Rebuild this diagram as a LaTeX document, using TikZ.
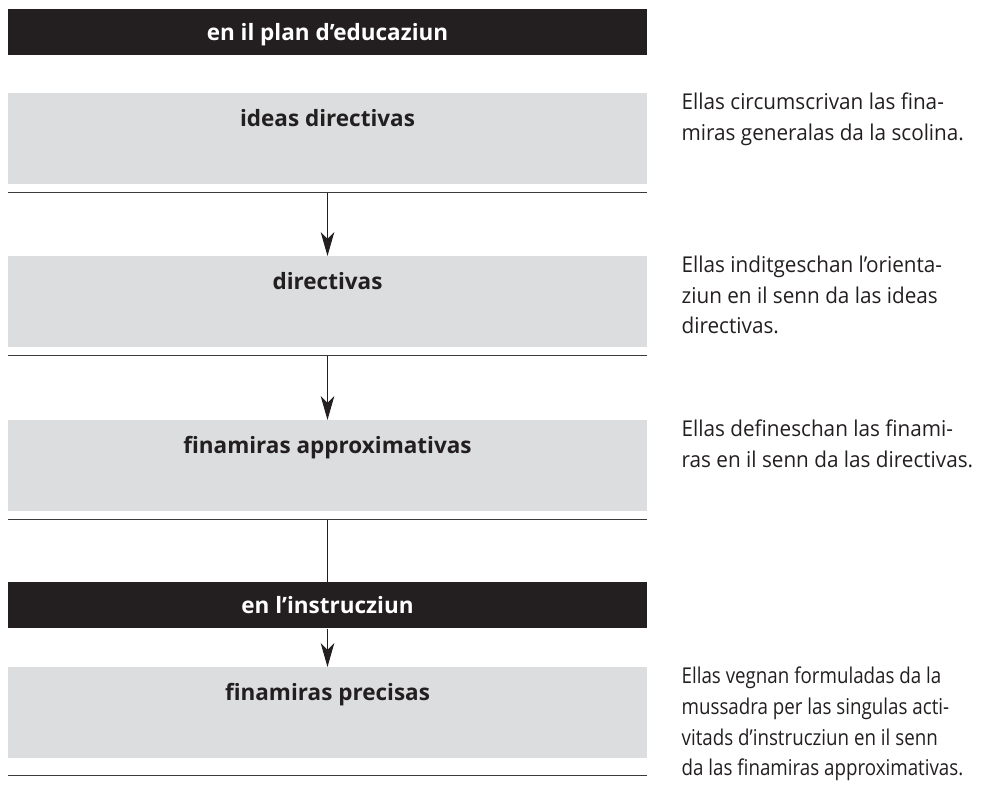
\documentclass[tikz,border=0pt]{standalone}
\usepackage{fontspec}
\setmainfont{Open Sans}
\newfontfamily\notesans{Open Sans}[FakeStretch=0.95]
\newfontfamily\narrowsans{Open Sans}[FakeStretch=0.86]
\usetikzlibrary{arrows.meta,calc,positioning}
\definecolor{inkblack}{HTML}{231F20}
\definecolor{boxgrey}{HTML}{DCDDDE}
\definecolor{rulegrey}{HTML}{3A3A3A}
\tikzset{headbar/.style={fill=inkblack,text=white,inner sep=0pt,minimum width=15.975cm,
    text height=0.775cm,text depth=0.375cm,font=\bfseries\fontsize{16}{18}\selectfont},
  greybox/.style={headbar,fill=boxgrey,text=inkblack,text height=0.825cm,text depth=1.45cm},
  note/.style={align=left,inner sep=0pt,text=inkblack,font=\notesans\fontsize{15.5}{21.7}\selectfont},
  sepline/.style={draw=rulegrey,line width=1pt},
  link/.style={draw=inkblack,line width=0.7pt},
  arr/.style={link,-{Stealth[length=6mm,width=3.4mm,inset=1.7mm]}}}
\begin{document}
\begin{tikzpicture}[x=0.025cm,y=-0.025cm]
\useasboundingbox (0,0) rectangle (981,785);
\node[headbar,anchor=north] (plan) at (327.5,9) {en il plan d’educaziun};
\node[greybox,anchor=north] (ideas) at (327.5,93) {ideas directivas};
\node[greybox,anchor=north] (dir) at (327.5,256) {directivas};
\node[greybox,anchor=north] (approx) at (327.5,420) {finamiras approximativas};
\node[headbar,anchor=north] (instr) at (327.5,582) {en l’instrucziun};
\node[greybox,anchor=north] (precise) at (327.5,667) {finamiras precisas};
% separators under the grey boxes
\foreach \n/\d in {ideas/8,dir/8,approx/8,precise/17}{
  \draw[sepline] ($(\n.south west)+(0,\d)$) -- ($(\n.south east)+(0,\d)$);
  \coordinate (\n-sep) at ($(\n.south)+(0,\d)$);}
\draw[arr] (ideas-sep) -- (dir.north);
\draw[arr] (dir-sep) -- (approx.north);
\draw[link] (approx-sep) -- (instr.north);
\draw[arr] (instr.south) -- (precise.north);
% explanations on the right
\node[note,right=0.85cm of ideas.north east,anchor=north west] (ideas-note)
  {Ellas circumscrivan las fina-\\miras generalas da la scolina.};
\node[note,right=0.85cm of dir.north east,anchor=north west] (dir-note)
  {Ellas inditgeschan l’orienta-\\ziun en il senn da las ideas\\directivas.};
\node[note,right=0.85cm of approx.north east,anchor=north west] (approx-note)
  {Ellas defineschan las finami-\\ras en il senn da las directivas.};
\node[note,right=0.85cm of precise.north east,anchor=north west,
  font={\narrowsans\fontsize{15.5}{21.7}\selectfont}] (precise-note)
  {Ellas vegnan formuladas da la\\mussadra per las singulas acti-\\vitads d’instrucziun en il senn\\da las finamiras approximativas.};
\end{tikzpicture}
\end{document}
